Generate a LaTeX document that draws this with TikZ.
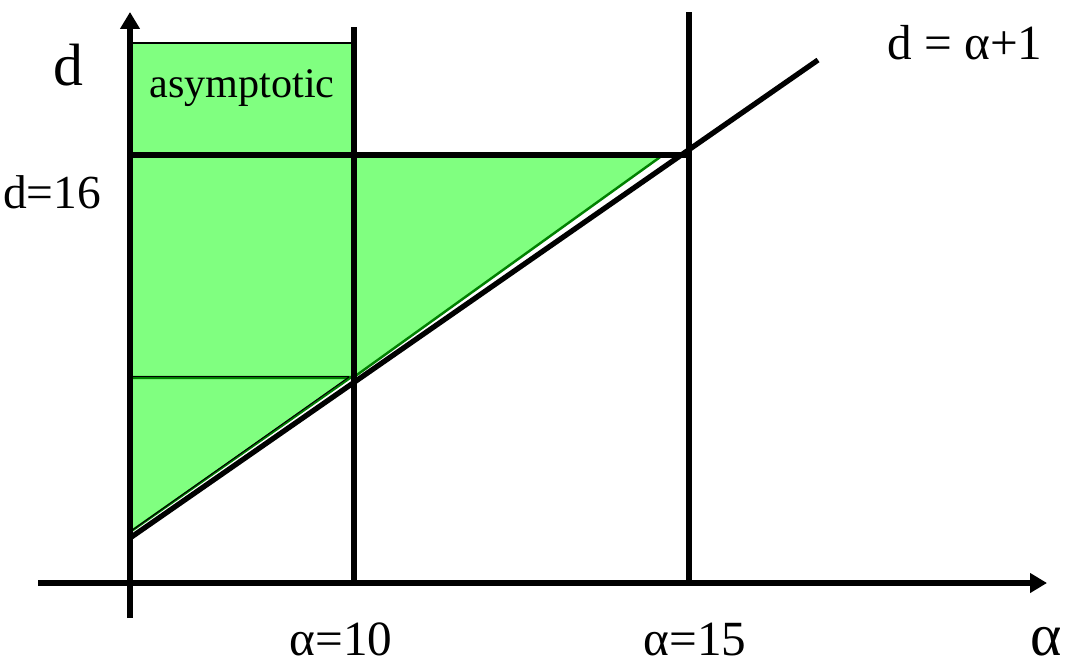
\documentclass[tikz,border=0pt]{standalone}
\usepackage{fontspec}
\setmainfont{Liberation Serif}
\usetikzlibrary{arrows.meta}
\definecolor{lgreen}{HTML}{80FF80}
\definecolor{dgreen}{HTML}{008000}
\tikzset{
  axisline/.style={line width=3pt,-{Triangle[length=0.34cm,width=0.38cm]}},
  thickline/.style={line width=3pt},
  thinline/.style={line width=0.6pt},
  region/.style={fill=lgreen,draw=dgreen,line width=1.4pt},
  biglbl/.style={inner sep=0pt,anchor=base,font=\fontsize{34}{36}\selectfont},
  lbl/.style={inner sep=0pt,anchor=base,font=\fontsize{28}{30}\selectfont},
  smalllbl/.style={inner sep=0pt,anchor=base,font=\fontsize{24}{26}\selectfont}
}
\begin{document}
\begin{tikzpicture}[x=0.02cm,y=-0.02cm]
\useasboundingbox (0,0) rectangle (1065,666);
% coordinates
\coordinate (O) at (130,583);
\coordinate (Vbot) at (130,618);
\coordinate (Vtop) at (130,12);
\coordinate (Hleft) at (38,583);
\coordinate (Hright) at (1047,583);
\coordinate (A10top) at (354,27);
\coordinate (A10bot) at (354,583);
\coordinate (A15top) at (689,12);
\coordinate (A15bot) at (689,583);
\coordinate (H16l) at (130,155);
\coordinate (H16r) at (689,155);
\coordinate (Dstart) at (130,538);
\coordinate (Dend) at (818,60);
% green regions
\draw[region] (130,43) rectangle (354,155);
\draw[region] (130,155) -- (663,155) -- (354,377) -- (130,377) -- cycle;
\draw[region] (130,378) -- (350,378) -- (130,532) -- cycle;
\draw[thinline] (130,376.5) -- (349,376.5);
\draw[thinline] (349,377) -- (131,531);
\draw[line width=1.2pt] (130,43) -- (354,43);
% lines
\draw[thickline] (A10top) -- (A10bot);
\draw[thickline] (A15top) -- (A15bot);
\draw[thickline] (H16l) -- (H16r);
\draw[thickline] (Dstart) -- (Dend);
\draw[axisline] (Vbot) -- (Vtop);
\draw[axisline] (Hleft) -- (Hright);
% labels
\node[biglbl] (dlab) at (68,85) {d};
\node[lbl,font=\fontsize{27}{30}\selectfont] (d16) at (52,208) {d=16};
\node[smalllbl] (asym) at (242,97) {asymptotic};
\node[lbl] (dline) at (965,59) {d = α+1};
\node[lbl] (a10) at (341,655) {α=10};
\node[lbl] (a15) at (695,655) {α=15};
\node[biglbl] (alab) at (1046,655) {α};
\end{tikzpicture}
\end{document}
